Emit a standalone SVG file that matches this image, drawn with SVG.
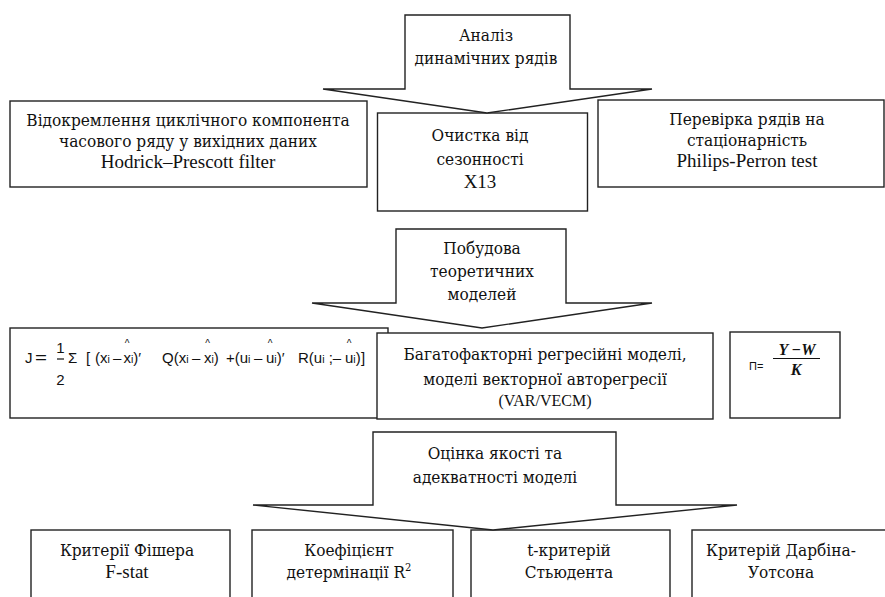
<svg xmlns="http://www.w3.org/2000/svg" width="885" height="597" viewBox="0 0 885 597">
<style>
.box{fill:#fff;stroke:#222;stroke-width:1.4}
.arr{fill:#fff;stroke:#222;stroke-width:1.4;stroke-linejoin:miter}
.t{font-family:"DejaVu Serif","Liberation Serif",serif;font-size:17px;fill:#111;text-anchor:middle}
.l{font-family:"Liberation Serif","Times New Roman",serif;font-size:19px;fill:#111;text-anchor:middle}
.s{font-size:16px}
.f{font-family:"Liberation Sans",Arial,sans-serif;font-size:15px;fill:#111}
.fs{font-size:10.5px}
.hat{font-family:"Liberation Sans",Arial,sans-serif;font-size:10px;fill:#111;text-anchor:middle}
</style>
<rect width="885" height="597" fill="#fff"/>

<g id="n_hp">
<rect class="box" x="10" y="101" width="357" height="86"/>
<text class="t" transform="translate(188 126) scale(0.905 1)">Відокремлення циклічного компонента</text>
<text class="t" transform="translate(188 147) scale(0.905 1)">часового ряду у вихідних даних</text>
<text class="l" x="188" y="168">Hodrick–Prescott filter</text>
</g>

<g id="n_x13">
<rect class="box" x="377.5" y="113" width="210" height="98"/>
<text class="t" transform="translate(480 141) scale(0.905 1)">Очистка від</text>
<text class="t" transform="translate(480 165) scale(0.905 1)">сезонності</text>
<text class="l" x="480" y="188">X13</text>
</g>

<g id="n_pp">
<rect class="box" x="598" y="100" width="286" height="87"/>
<text class="t" transform="translate(747 125) scale(0.905 1)">Перевірка рядів на</text>
<text class="t" transform="translate(747 146) scale(0.905 1)">стаціонарність</text>
<text class="l" x="747" y="167">Philips-Perron test</text>
</g>

<g id="n_formula">
<rect class="box" x="10" y="328" width="378" height="90"/>
<text class="f" x="25" y="363">J</text>
<text class="f" x="35" y="363" textLength="12" lengthAdjust="spacingAndGlyphs">=</text>
<text class="f" x="60.5" y="353" text-anchor="middle">1</text>
<line x1="57" y1="359" x2="64" y2="359" stroke="#111" stroke-width="1.2"/>
<text class="f" x="60.5" y="385" text-anchor="middle">2</text>
<text class="f" x="68" y="363">Σ</text>
<text class="f" x="86" y="363">[</text>
<text class="f" y="363"><tspan x="95">(x</tspan><tspan class="fs">i</tspan><tspan x="113">–</tspan><tspan x="123.5">x</tspan><tspan class="fs">i</tspan><tspan>)′</tspan></text>
<text class="hat" x="127.2" y="347">^</text>
<text class="f" y="363"><tspan x="162">Q(x</tspan><tspan class="fs">i</tspan><tspan x="192">–</tspan><tspan x="204">x</tspan><tspan class="fs">i</tspan><tspan>)</tspan><tspan x="226">+(u</tspan><tspan class="fs">i</tspan><tspan x="254">–</tspan><tspan x="266">u</tspan><tspan class="fs">i</tspan><tspan>)′</tspan></text>
<text class="hat" x="207.7" y="347">^</text>
<text class="hat" x="270.2" y="347">^</text>
<text class="f" y="363"><tspan x="298">R(u</tspan><tspan class="fs">i</tspan><tspan> ;–</tspan><tspan x="345">u</tspan><tspan class="fs">i</tspan><tspan>)</tspan><tspan x="361">]</tspan></text>
<text class="hat" x="349.1" y="347">^</text>
</g>

<g id="n_models">
<rect class="box" x="377" y="333" width="336" height="86"/>
<text class="t" transform="translate(545 360) scale(0.905 1)">Багатофакторні регресійні моделі,</text>
<text class="t" transform="translate(545 385) scale(0.905 1)">моделі векторної авторегресії</text>
<text class="l s" x="545" y="406">(VAR/VECM)</text>
</g>

<g id="n_pi">
<rect class="box" x="730" y="332" width="110" height="86"/>
<text x="749" y="370" font-family="Liberation Sans, Arial, sans-serif" font-size="11" fill="#111">П=</text>
<text x="797" y="355" text-anchor="middle" font-family="Liberation Serif, Times New Roman, serif" font-size="16" font-style="italic" font-weight="bold" fill="#111">Y −W</text>
<line x1="773" y1="358.5" x2="820" y2="358.5" stroke="#111" stroke-width="1"/>
<text x="796" y="375" text-anchor="middle" font-family="Liberation Serif, Times New Roman, serif" font-size="16" font-style="italic" font-weight="bold" fill="#111">K</text>
</g>

<g id="n_fisher">
<rect class="box" x="31" y="530" width="199" height="80"/>
<text class="t" transform="translate(127 556) scale(0.905 1)">Критерії Фішера</text>
<text class="l" x="127" y="578">F-stat</text>
</g>

<g id="n_r2">
<rect class="box" x="252" y="530" width="201" height="80"/>
<text class="t" transform="translate(349 556) scale(0.905 1)">Коефіцієнт</text>
<text class="t" transform="translate(349 578) scale(0.905 1)">детермінації R<tspan font-size="11" dy="-7">2</tspan></text>
</g>

<g id="n_student">
<rect class="box" x="471" y="530" width="199" height="80"/>
<text class="t" transform="translate(569 556) scale(0.905 1)">t-критерій</text>
<text class="t" transform="translate(569 578) scale(0.905 1)">Стьюдента</text>
</g>

<g id="n_dw">
<rect class="box" x="692" y="530" width="220" height="80"/>
<text class="t" transform="translate(781 556) scale(0.905 1)">Критерій Дарбіна-</text>
<text class="t" transform="translate(781 578) scale(0.905 1)">Уотсона</text>
</g>

<g id="connectors">
<g id="a_analysis">
<polygon class="arr" points="405,15 570,15 570,89 652,89 487,113 323,89 405,89"/>
<text class="t" transform="translate(486 41) scale(0.905 1)">Аналіз</text>
<text class="t" transform="translate(486 64) scale(0.905 1)">динамічних рядів</text>
</g>
<g id="a_build">
<polygon class="arr" points="396,229 566,229 566,303 652,303 482,328 312,303 396,303"/>
<text class="t" transform="translate(482 254) scale(0.905 1)">Побудова</text>
<text class="t" transform="translate(482 277) scale(0.905 1)">теоретичних</text>
<text class="t" transform="translate(482 300) scale(0.905 1)">моделей</text>
</g>
<g id="a_quality">
<polygon class="arr" points="373,432 616,432 616,505 737,505 493,530 253,505 373,505"/>
<text class="t" transform="translate(495 459) scale(0.905 1)">Оцінка якості та</text>
<text class="t" transform="translate(495 483) scale(0.905 1)">адекватності моделі</text>
</g>
</g>
</svg>
